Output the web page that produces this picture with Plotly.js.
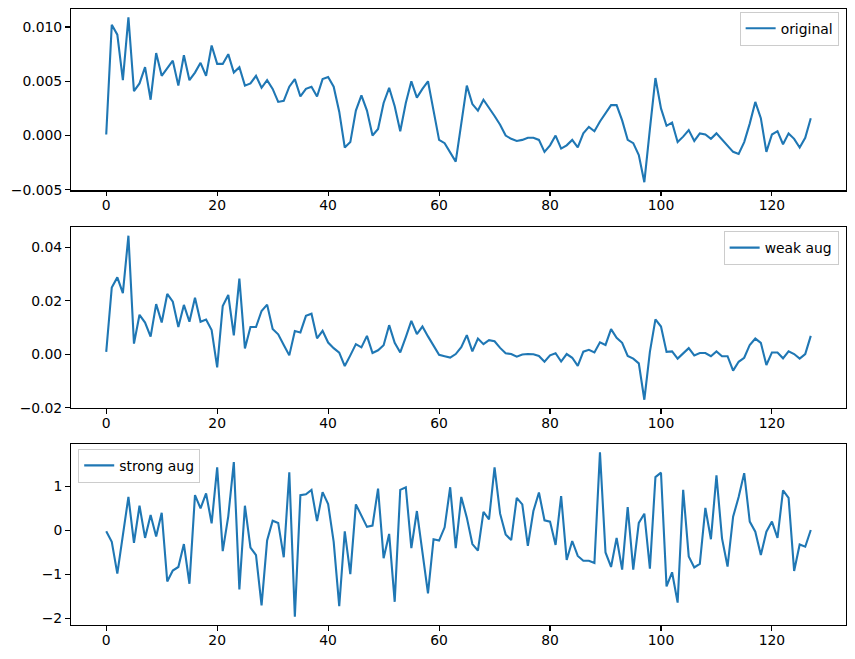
<!DOCTYPE html>
<html>
<head>
<meta charset="utf-8">
<script src="https://cdn.plot.ly/plotly-3.0.1.min.js"></script>
<style>
  html, body { margin: 0; padding: 0; background: #fff; }
  #chart { width: 855px; height: 659px; }
</style>
</head>
<body>
<div id="chart"></div>
<script>
// ---------- Data ----------
const original = [
  0.0001, 0.0102, 0.0093, 0.0051, 0.0109, 0.0041, 0.0048, 0.0063, 0.0033, 0.0076,
  0.0055, 0.0062, 0.0069, 0.0046, 0.0074, 0.0051, 0.0058, 0.0067, 0.0055, 0.0083,
  0.0066, 0.0066, 0.0075, 0.0058, 0.0063, 0.0046, 0.0048, 0.0055, 0.0044, 0.0051,
  0.0043, 0.0031, 0.0032, 0.0045, 0.0052, 0.0036, 0.0043, 0.0045, 0.0036, 0.0052,
  0.0054, 0.0045, 0.0022, -0.0011, -0.0006, 0.0023, 0.0037, 0.0023, 0.0000, 0.0006,
  0.0030, 0.0044, 0.0027, 0.0004, 0.0030, 0.0050, 0.0035, 0.0043, 0.0050, 0.0023,
  -0.0004, -0.0007, -0.0015, -0.0024, 0.0011, 0.0046, 0.0029, 0.0023, 0.0033, 0.0026,
  0.0018, 0.0010, 0.0000, -0.0003, -0.0005, -0.0004, -0.0002, -0.0002, -0.0004, -0.0015,
  -0.0009, 0.0000, -0.0012, -0.0009, -0.0004, -0.0011, 0.0002, 0.0008, 0.0004, 0.0013,
  0.0020, 0.0028, 0.0028, 0.0014, -0.0004, -0.0007, -0.0018, -0.0043, 0.0006, 0.0053,
  0.0025, 0.0009, 0.0012, -0.0006, -0.0001, 0.0005, -0.0005, 0.0002, 0.0001, -0.0003,
  0.0002, -0.0004, -0.0010, -0.0015, -0.0017, -0.0006, 0.0011, 0.0031, 0.0016, -0.0015,
  0.0001, 0.0004, -0.0008, 0.0002, -0.0003, -0.0011, -0.0002, 0.0016
];

const weakAug = [
  0.0009, 0.0250, 0.0288, 0.0229, 0.0444, 0.0040, 0.0148, 0.0119, 0.0066, 0.0188,
  0.0119, 0.0226, 0.0197, 0.0102, 0.0185, 0.0122, 0.0212, 0.0122, 0.0130, 0.0091,
  -0.0049, 0.0181, 0.0222, 0.0071, 0.0283, 0.0022, 0.0102, 0.0102, 0.0162, 0.0186,
  0.0095, 0.0075, 0.0035, -0.0004, 0.0087, 0.0082, 0.0144, 0.0152, 0.0060, 0.0088,
  0.0044, 0.0023, 0.0006, -0.0044, -0.0004, 0.0038, 0.0026, 0.0069, 0.0005, 0.0015,
  0.0034, 0.0109, 0.0043, 0.0007, 0.0064, 0.0125, 0.0076, 0.0104, 0.0067, 0.0033,
  -0.0002, -0.0007, -0.0012, 0.0001, 0.0027, 0.0072, 0.0011, 0.0059, 0.0038, 0.0053,
  0.0049, 0.0024, 0.0004, 0.0001, -0.0009, -0.0001, 0.0001, 0.0000, -0.0006, -0.0028,
  -0.0004, 0.0004, -0.0027, 0.0001, -0.0013, -0.0043, 0.0010, 0.0017, 0.0007, 0.0045,
  0.0035, 0.0094, 0.0062, 0.0043, -0.0006, -0.0016, -0.0034, -0.0170, 0.0009, 0.0131,
  0.0104, 0.0009, 0.0011, -0.0016, 0.0004, 0.0023, -0.0004, 0.0005, 0.0005, -0.0007,
  0.0011, -0.0007, -0.0007, -0.0061, -0.0028, -0.0013, 0.0035, 0.0059, 0.0043, -0.0040,
  0.0007, 0.0007, -0.0015, 0.0011, 0.0001, -0.0016, 0.0001, 0.0069
];

const strongAug = [
  -0.02, -0.26, -0.98, -0.13, 0.76, -0.28, 0.56, -0.17, 0.35, -0.14,
  0.40, -1.16, -0.91, -0.83, -0.31, -1.21, 0.80, 0.50, 0.84, 0.16,
  1.43, -0.47, 0.32, 1.55, -1.34, 0.56, -0.39, -0.56, -1.70, -0.23,
  0.22, 0.17, -0.61, 1.32, -1.96, 0.80, 0.82, 0.92, 0.21, 0.87,
  0.60, -0.26, -1.72, -0.02, -0.99, 0.59, 0.35, 0.08, 0.11, 0.95,
  -0.63, -0.08, -1.62, 0.92, 0.98, -0.40, 0.44, -0.44, -1.43, -0.20,
  -0.23, 0.07, 0.98, -0.40, 0.76, 0.29, -0.31, -0.46, 0.42, 0.25,
  1.43, 0.38, -0.09, -0.22, 0.74, 0.59, -0.35, 0.44, 0.86, 0.23,
  0.20, -0.33, 0.78, -0.67, -0.24, -0.58, -0.69, -0.69, -0.74, 1.77,
  -0.50, -0.83, -0.17, -0.89, 0.53, -0.89, 0.17, 0.38, -0.87, 1.21,
  1.31, -1.27, -0.95, -1.64, 0.92, -0.59, -0.84, -0.76, 0.51, -0.20,
  1.25, -0.18, -0.82, 0.31, 0.76, 1.30, 0.20, -0.03, -0.56, -0.03,
  0.20, -0.17, 0.91, 0.74, -0.92, -0.32, -0.37, 0.01
];

const seriesNames = ["original", "weak aug", "strong aug"];
const steps = original.map((_, i) => i);

// ---------- Style ----------
const BLUE = "#1f77b4";
const FONT = { family: "DejaVu Sans, sans-serif", size: 13.9, color: "#000" };

// matplotlib-style autoscale: 5% padding on each side
function padRange(vals) {
  const lo = Math.min(...vals), hi = Math.max(...vals);
  const m = (hi - lo) * 0.05;
  return [lo - m, hi + m];
}

function xAxis(anchor) {
  return {
    anchor: anchor,
    range: padRange(steps),
    tick0: 0, dtick: 20,
    showline: true, mirror: true, linecolor: "#000", linewidth: 1.1,
    ticks: "outside", ticklen: 4.9, tickwidth: 1.1, tickcolor: "#000",
    ticklabelstandoff: -3,
    showgrid: false, zeroline: false, automargin: false,
    tickfont: FONT,
  };
}

function yAxis(anchor, domain, vals, dtick, fmt) {
  return {
    anchor: anchor,
    domain: domain,
    range: padRange(vals),
    tick0: 0, dtick: dtick, tickformat: fmt,
    showline: true, mirror: true, linecolor: "#000", linewidth: 1.1,
    ticks: "outside", ticklen: 4.9, tickwidth: 1.1, tickcolor: "#000",
    showgrid: false, zeroline: false, automargin: false,
    tickfont: FONT,
  };
}

function legendBox(x, y, xanchor) {
  return {
    x: x, y: y, xanchor: xanchor, yanchor: "top",
    xref: "paper", yref: "paper",
    bgcolor: "rgba(255,255,255,0.8)",
    bordercolor: "#cccccc", borderwidth: 1,
    font: FONT,
    itemwidth: 30,
  };
}

const traces = [
  { x: steps, y: original, xaxis: "x", yaxis: "y", legend: "legend" },
  { x: steps, y: weakAug, xaxis: "x2", yaxis: "y2", legend: "legend2" },
  { x: steps, y: strongAug, xaxis: "x3", yaxis: "y3", legend: "legend3" },
].map((t, i) => Object.assign(t, {
  type: "scatter", mode: "lines", name: seriesNames[i],
  line: { color: BLUE, width: 2.1 },
  showlegend: true,
}));

const layout = {
  width: 855, height: 659,
  margin: { l: 71, r: 9, t: 9, b: 34 },
  paper_bgcolor: "#fff", plot_bgcolor: "#fff",
  font: FONT,
  xaxis:  xAxis("y"),
  yaxis:  yAxis("x",  [0.7054, 1], original, 0.005, ".3f"),
  xaxis2: xAxis("y2"),
  yaxis2: yAxis("x2", [0.3524, 0.6453], weakAug, 0.02, ".2f"),
  xaxis3: xAxis("y3"),
  yaxis3: yAxis("x3", [0, 0.2935], strongAug, 1, "d"),
  legend:  legendBox(0.9905, 0.9955, "right"),
  legend2: legendBox(0.9905, 0.6395, "right"),
  legend3: legendBox(0.0093, 0.2860, "left"),
};

Plotly.newPlot("chart", traces, layout, { displayModeBar: false, staticPlot: true });
</script>
</body>
</html>
